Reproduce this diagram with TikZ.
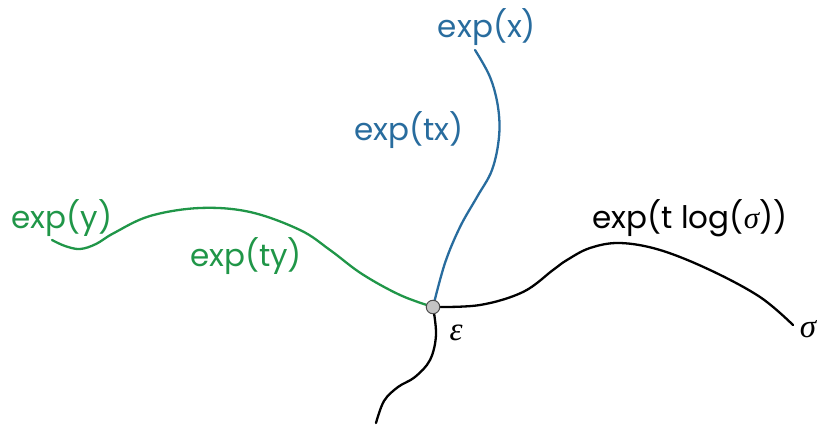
\documentclass[tikz,border=0pt]{standalone}
\usepackage{fontspec}
\setmainfont{Poppins}
\newfontfamily\symfont{Liberation Serif}
\usepackage{tikz}
\usetikzlibrary{positioning, calc}
\definecolor{PathBlue}{RGB}{40, 108, 158}
\definecolor{PathGreen}{RGB}{32, 150, 72}
\definecolor{PointGray}{RGB}{196, 196, 196}

\tikzset{
  curve/.style={line width=2.3pt, line cap=round},
  lbl/.style={inner sep=0pt, font=\fontsize{31}{34}\selectfont},
  sym/.style={inner sep=0pt, font=\fontsize{33}{36}\selectfont\symfont\itshape},
}

\begin{document}
\begin{tikzpicture}[x=1pt, y=-1pt]
    \useasboundingbox (0,0) rectangle (821,425);
    % identity point
    \coordinate (id) at (433,307);

    % the four geodesics
    \draw[curve, PathBlue] plot[smooth, tension=0.6] coordinates
      {(id) (445,263) (460,227) (477,197) (492,170) (499,137) (498,107) (490,77) (475,50)};
    \draw[curve, PathGreen] plot[smooth, tension=0.6] coordinates
      {(id) (400,295) (362,274) (330,250) (300,230) (250,212) (200,208) (150,216) (114,233) (96,244) (80,249) (65,246) (52,240)};
    \draw[curve] plot[smooth, tension=0.6] coordinates
      {(id) (480,305) (523,292) (553,270) (567,260) (590,248) (620,243) (660,250) (710,270) (760,297) (793,325)};
    \draw[curve] plot[smooth, tension=0.6] coordinates
      {(id) (436,335) (430,360) (415,377) (398,387) (384,401) (376,423)};

    \node[circle, draw=black!70, fill=PointGray, line width=1pt,
          minimum size=13.5pt, inner sep=0pt] (ctr) at (id) {};

    % labels
    \node[lbl, text=PathBlue] (lx) at (487,27) {exp(x)};
    \node[lbl, text=PathBlue] (ltx) at (409,130) {exp(tx)};
    \node[lbl, text=PathGreen] (ly) at (62,218) {exp(y)};
    \node[lbl, text=PathGreen] (lty) at (246,256) {exp(ty)};
    \node[lbl] (ls) at (690,218) {exp(t log({\symfont\itshape σ}))};
    \node[sym] (sig) at (808,329) {σ};
    \node[sym] (eps) at (456,333) {ε};
  \end{tikzpicture}
\end{document}
